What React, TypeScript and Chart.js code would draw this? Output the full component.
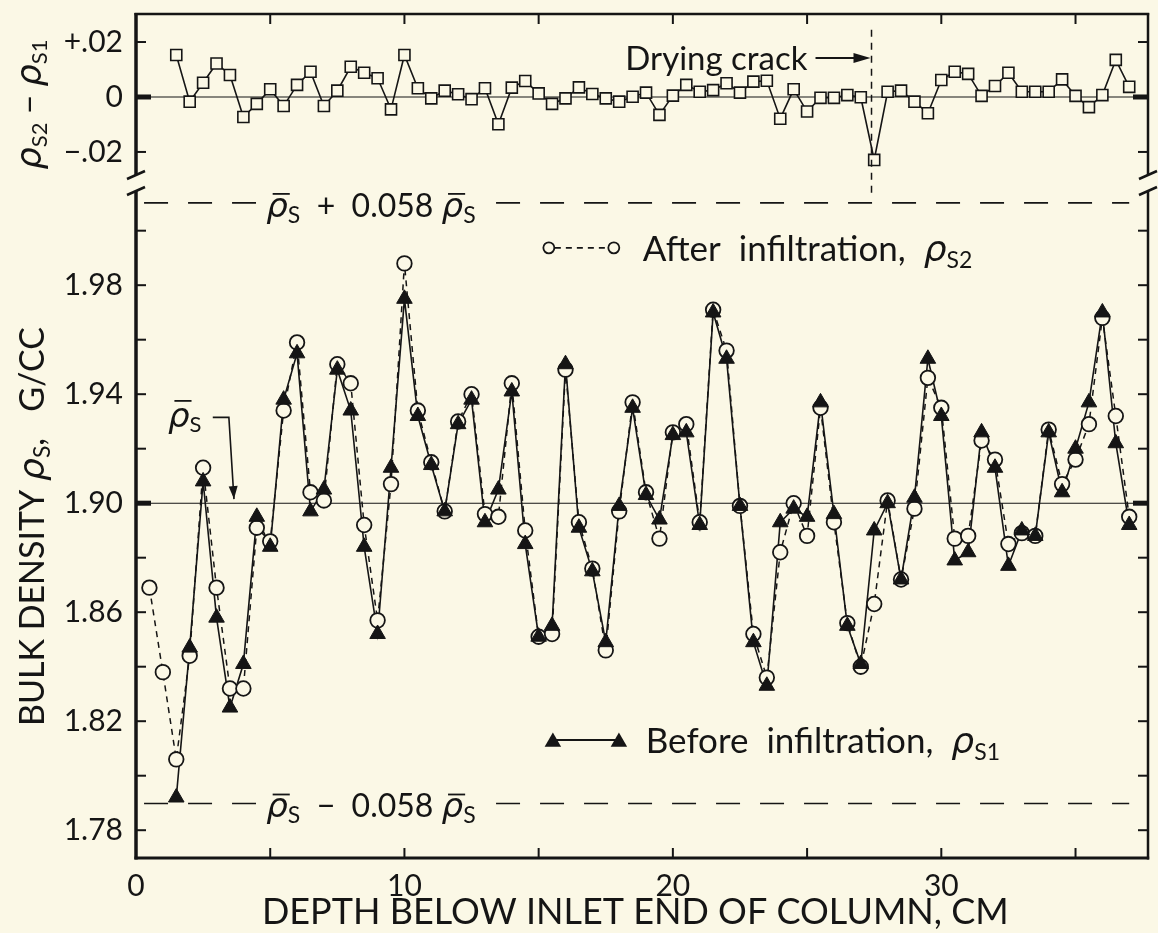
import React, { useEffect, useRef } from 'react';
import { Chart, registerables } from 'chart.js';

Chart.register(...registerables);

const BG = '#fbf8e6';
const INK = '#151515';
const LATIN = 'Lato, "DejaVu Sans", sans-serif';
const GREEK = '"DejaVu Sans", "Noto Sans", sans-serif';

// depth of each slice below the inlet end (cm)
const depthCm = [
  0.5, 1, 1.5, 2, 2.5, 3, 3.5, 4, 4.5, 5,
  5.5, 6, 6.5, 7, 7.5, 8, 8.5, 9, 9.5, 10,
  10.5, 11, 11.5, 12, 12.5, 13, 13.5, 14, 14.5, 15,
  15.5, 16, 16.5, 17, 17.5, 18, 18.5, 19, 19.5, 20,
  20.5, 21, 21.5, 22, 22.5, 23, 23.5, 24, 24.5, 25,
  25.5, 26, 26.5, 27, 27.5, 28, 28.5, 29, 29.5, 30,
  30.5, 31, 31.5, 32, 32.5, 33, 33.5, 34, 34.5, 35,
  35.5, 36, 36.5, 37,
];

// bulk density after infiltration, rho_s2 (g/cc)
const afterInfiltration = [
  1.869, 1.838, 1.806, 1.844, 1.913, 1.869, 1.832, 1.832, 1.891, 1.886,
  1.934, 1.959, 1.904, 1.901, 1.951, 1.944, 1.892, 1.857, 1.907, 1.988,
  1.934, 1.915, 1.897, 1.930, 1.940, 1.896, 1.895, 1.944, 1.890, 1.851,
  1.852, 1.949, 1.893, 1.876, 1.846, 1.897, 1.937, 1.904, 1.887, 1.926,
  1.929, 1.893, 1.971, 1.956, 1.899, 1.852, 1.836, 1.882, 1.900, 1.888,
  1.935, 1.893, 1.856, 1.840, 1.863, 1.901, 1.872, 1.898, 1.946, 1.935,
  1.887, 1.888, 1.923, 1.916, 1.885, 1.889, 1.888, 1.927, 1.907, 1.916,
  1.929, 1.968, 1.932, 1.895,
];

// bulk density before infiltration, rho_s1 (g/cc)
const beforeInfiltration = [
  null, null, 1.792, 1.847, 1.908, 1.858, 1.825, 1.841, 1.895, 1.884,
  1.938, 1.955, 1.897, 1.905, 1.949, 1.934, 1.884, 1.852, 1.913, 1.975,
  1.932, 1.914, 1.897, 1.929, 1.938, 1.893, 1.905, 1.941, 1.885, 1.851,
  1.855, 1.951, 1.891, 1.875, 1.849, 1.899, 1.935, 1.903, 1.894, 1.925,
  1.926, 1.892, 1.970, 1.953, 1.899, 1.849, 1.833, 1.893, 1.898, 1.895,
  1.937, 1.896, 1.855, 1.841, 1.890, 1.900, 1.872, 1.902, 1.953, 1.932,
  1.879, 1.882, 1.926, 1.913, 1.877, 1.890, 1.888, 1.926, 1.904, 1.920,
  1.937, 1.970, 1.922, 1.892,
];

// rho_s2 - rho_s1 (upper panel), from 1.5 cm on
const differenceDepthCm = depthCm.slice(2);
const densityDifference = [
  0.0153, -0.0017, 0.0052, 0.0122, 0.0080, -0.0073, -0.0025, 0.0028,
  -0.0033, 0.0044, 0.0092, -0.0033, 0.0023, 0.0110, 0.0088, 0.0068, -0.0045, 0.0153,
  0.0032, -0.0005, 0.0023, 0.0010, -0.0008, 0.0032, -0.0099, 0.0034, 0.0058, 0.0013,
  -0.0025, -0.0005, 0.0035, 0.0011, -0.0005, -0.0017, 0.0001, 0.0016, -0.0065, 0.0005,
  0.0044, 0.0019, 0.0025, 0.0050, 0.0016, 0.0056, 0.0059, -0.0079, 0.0028, -0.0053,
  -0.0003, -0.0003, 0.0007, -0.0001, -0.0229, 0.0019, 0.0023, -0.0017, -0.0059, 0.0062,
  0.0092, 0.0084, 0.0004, 0.0040, 0.0088, 0.0019, 0.0019, 0.0019, 0.0064, 0.0004,
  -0.0037, 0.0007, 0.0135, 0.0037,
];

// ticks
const depthTicks = [0, 5, 10, 15, 20, 25, 30, 35];
const depthLabelValues = [0, 10, 20, 30];
const depthLabels = ['0', '10', '20', '30'];
const densityTicks = [1.78, 1.8, 1.82, 1.84, 1.86, 1.88, 1.9, 1.92, 1.94, 1.96, 1.98, 2.0];
const densityLabelValues = [1.78, 1.82, 1.86, 1.9, 1.94, 1.98];
const densityLabels = ['1.78', '1.82', '1.86', '1.90', '1.94', '1.98'];
const differenceTicks = [-0.02, 0, 0.02];
const differenceLabels = ['\u2212.02', '0', '+.02'];

// reference levels
const meanDensity = 1.9;
const bandFraction = 0.058;
const bandStartCm = 0.3;
const bandEndCm = 37.0;
const crackDepth = 27.4;

// axis ranges
const depthMax = 37.7;
const densityMin = 1.7698;
const densityMax = 2.0175;
const differenceMin = -0.0313;
const differenceMax = 0.0302;

// annotation anchors (data units)
const crackTopDiff = 0.0245;
const crackBottomDensity = 2.013;
const crackLabelDiff = 0.0142;
const afterLegend = { level: 1.9937, mark1: 15.38, mark2: 17.8, text: 18.88 };
const beforeLegend = { level: 1.8131, mark1: 15.53, mark2: 17.99, text: 18.99 };
const bandLabelCm = 4.85;
const meanLabel = { cm: 1.19, level: 1.928 };
const meanArrow = { startCm: 2.86, cornerCm: 3.46, tipCm: 3.65, level: 1.9315, tipLevel: 1.9015 };
const xTitleCm = 18.6;

type Part = { t: string; f: string; dy?: number; bar?: number };

const latin = (s: number) => `${s}px ${LATIN}`;
const greek = (s: number) => `italic ${s}px ${GREEK}`;

function measureParts(ctx: CanvasRenderingContext2D, parts: Part[]) {
  let w = 0;
  for (const p of parts) {
    ctx.font = p.f;
    w += ctx.measureText(p.t).width;
  }
  return w;
}

function drawParts(
  ctx: CanvasRenderingContext2D,
  x: number,
  y: number,
  parts: Part[],
  align: 'left' | 'center' | 'right' = 'left'
) {
  const w = measureParts(ctx, parts);
  let cx = align === 'left' ? x : align === 'center' ? x - w / 2 : x - w;
  ctx.textAlign = 'left';
  ctx.textBaseline = 'alphabetic';
  for (const p of parts) {
    ctx.font = p.f;
    const pw = ctx.measureText(p.t).width;
    ctx.fillText(p.t, cx, y + (p.dy || 0));
    if (p.bar) {
      ctx.beginPath();
      ctx.lineWidth = 1.8;
      ctx.moveTo(cx + pw * 0.3, y - p.bar);
      ctx.lineTo(cx + pw + 2, y - p.bar);
      ctx.stroke();
    }
    cx += pw;
  }
  return w;
}

function seg(ctx: CanvasRenderingContext2D, x1: number, y1: number, x2: number, y2: number, w: number) {
  ctx.beginPath();
  ctx.lineWidth = w;
  ctx.moveTo(x1, y1);
  ctx.lineTo(x2, y2);
  ctx.stroke();
}

function arrowHead(ctx: CanvasRenderingContext2D, fx: number, fy: number, tx: number, ty: number, len: number, half: number) {
  const ang = Math.atan2(ty - fy, tx - fx);
  const c = Math.cos(ang), s = Math.sin(ang);
  ctx.beginPath();
  ctx.moveTo(tx, ty);
  ctx.lineTo(tx - len * c - half * s, ty - len * s + half * c);
  ctx.lineTo(tx - len * c + half * s, ty - len * s - half * c);
  ctx.closePath();
  ctx.fill();
}

function circleMark(ctx: CanvasRenderingContext2D, x: number, y: number, r: number) {
  ctx.beginPath();
  ctx.arc(x, y, r, 0, Math.PI * 2);
  ctx.fillStyle = BG;
  ctx.fill();
  ctx.lineWidth = 1.8;
  ctx.strokeStyle = INK;
  ctx.stroke();
  ctx.fillStyle = INK;
}

function triangleMark(ctx: CanvasRenderingContext2D, x: number, y: number, r: number) {
  ctx.beginPath();
  ctx.moveTo(x, y - r);
  ctx.lineTo(x + r * 0.866, y + r * 0.5);
  ctx.lineTo(x - r * 0.866, y + r * 0.5);
  ctx.closePath();
  ctx.fillStyle = INK;
  ctx.fill();
}

const decorPlugin = {
  id: 'decor',
  beforeDraw(chart: any) {
    const { ctx, width, height } = chart;
    ctx.save();
    ctx.fillStyle = BG;
    ctx.fillRect(0, 0, width, height);
    ctx.restore();
  },
  afterDatasetsDraw(chart: any) {
    const ctx: CanvasRenderingContext2D = chart.ctx;
    const sx = chart.scales.x, sy = chart.scales.y, sd = chart.scales.yd;
    const X = (v: number) => sx.getPixelForValue(v);
    const Y = (v: number) => sy.getPixelForValue(v);
    const D = (v: number) => sd.getPixelForValue(v);
    ctx.save();
    ctx.strokeStyle = INK;
    ctx.fillStyle = INK;

    // band labels (interrupt dashed lines)
    const bandLabel = (level: number, sign: string) => {
      const py = Y(level);
      const parts: Part[] = [
        { t: '\u03c1', f: greek(34), bar: 23 },
        { t: 'S', f: latin(23), dy: 6 },
        { t: `  ${sign}  0.058 `, f: latin(32) },
        { t: '\u03c1', f: greek(34), bar: 23 },
        { t: 'S', f: latin(23), dy: 6 },
      ];
      const x0 = X(bandLabelCm);
      const w = measureParts(ctx, parts);
      ctx.fillStyle = BG;
      ctx.fillRect(x0 - 10, py - 4, w + 20, 8);
      ctx.fillStyle = INK;
      drawParts(ctx, x0, py + 14, parts);
    };
    bandLabel(meanDensity * (1 + bandFraction), '+');
    bandLabel(meanDensity * (1 - bandFraction), '\u2212');

    // mean label with arrow
    drawParts(ctx, X(meanLabel.cm), Y(meanLabel.level), [
      { t: '\u03c1', f: greek(34), bar: 26 },
      { t: 'S', f: latin(22), dy: 5 },
    ]);
    ctx.beginPath();
    ctx.lineWidth = 1.6;
    ctx.moveTo(X(meanArrow.startCm), Y(meanArrow.level));
    ctx.lineTo(X(meanArrow.cornerCm), Y(meanArrow.level));
    ctx.lineTo(X(meanArrow.tipCm), Y(meanArrow.tipLevel));
    ctx.stroke();
    arrowHead(ctx, X(meanArrow.cornerCm), Y(meanArrow.level), X(meanArrow.tipCm), Y(meanArrow.tipLevel), 13, 4.5);

    // drying crack
    const cx = X(crackDepth);
    ctx.setLineDash([7, 6]);
    seg(ctx, cx, D(crackTopDiff), cx, Y(crackBottomDensity), 1.5);
    ctx.setLineDash([]);
    const cy = D(crackLabelDiff);
    seg(ctx, cx - 56, cy, cx - 14, cy, 2);
    arrowHead(ctx, cx - 30, cy, cx - 1, cy, 17, 5);
    drawParts(ctx, cx - 64, cy + 12, [{ t: 'Drying crack', f: latin(33) }], 'right');

    // legend: after
    const la = Y(afterLegend.level);
    ctx.setLineDash([6, 5]);
    seg(ctx, X(afterLegend.mark1) + 6, la, X(afterLegend.mark2) - 6, la, 1.6);
    ctx.setLineDash([]);
    circleMark(ctx, X(afterLegend.mark1), la, 5.5);
    circleMark(ctx, X(afterLegend.mark2), la, 5.5);
    drawParts(ctx, X(afterLegend.text), la + 13, [
      { t: 'After  infiltration,  ', f: latin(35) },
      { t: '\u03c1', f: greek(36) },
      { t: 'S2', f: latin(23), dy: 7 },
    ]);

    // legend: before
    const lb = Y(beforeLegend.level);
    seg(ctx, X(beforeLegend.mark1), lb, X(beforeLegend.mark2), lb, 1.8);
    triangleMark(ctx, X(beforeLegend.mark1), lb + 2, 9.5);
    triangleMark(ctx, X(beforeLegend.mark2), lb + 2, 9.5);
    drawParts(ctx, X(beforeLegend.text), lb + 13, [
      { t: 'Before  infiltration,  ', f: latin(35) },
      { t: '\u03c1', f: greek(36) },
      { t: 'S1', f: latin(23), dy: 7 },
    ]);
    ctx.restore();
  },
  afterDraw(chart: any) {
    const ctx: CanvasRenderingContext2D = chart.ctx;
    const a = chart.chartArea;
    const sx = chart.scales.x, sy = chart.scales.y, sd = chart.scales.yd;
    ctx.save();
    ctx.strokeStyle = INK;
    ctx.fillStyle = INK;
    const brk = sd.bottom;
    // frame
    seg(ctx, a.left, a.top - 1, a.left, brk - 8, 3.5);
    seg(ctx, a.left, brk + 8, a.left, a.bottom + 1.5, 3.5);
    seg(ctx, a.right, a.top - 1, a.right, brk - 8, 2.5);
    seg(ctx, a.right, brk + 8, a.right, a.bottom + 1.5, 2.5);
    seg(ctx, a.left - 1.5, a.bottom, a.right + 1.2, a.bottom, 3);
    seg(ctx, a.left - 1.5, a.top, a.right + 1.2, a.top, 2.5);
    for (const bx of [a.left, a.right]) {
      seg(ctx, bx - 9, brk - 4, bx + 9, brk - 12, 2.5);
      seg(ctx, bx - 9, brk + 12, bx + 9, brk + 4, 2.5);
    }
    // inward ticks
    const T = 10;
    for (const v of depthTicks) {
      if (v <= 0) continue;
      const px = sx.getPixelForValue(v);
      seg(ctx, px, a.bottom, px, a.bottom - T, 2);
      seg(ctx, px, a.top, px, a.top + T, 2);
    }
    for (const v of densityTicks) {
      const py = sy.getPixelForValue(v);
      seg(ctx, a.left, py, a.left + T, py, 2);
      seg(ctx, a.right, py, a.right - T, py, 2);
    }
    for (const v of differenceTicks) {
      const py = sd.getPixelForValue(v);
      seg(ctx, a.left, py, a.left + T, py, 2);
      seg(ctx, a.right, py, a.right - T, py, 2);
    }
    // heavy marks at the reference levels
    for (const py of [sy.getPixelForValue(meanDensity), sd.getPixelForValue(0)]) {
      ctx.fillRect(a.left, py - 2.5, 15, 5);
      ctx.fillRect(a.right - 15, py - 2.5, 15, 5);
    }

    // y titles (rotated)
    const yTitle = (px: number, py: number, parts: Part[]) => {
      ctx.save();
      ctx.translate(px, py);
      ctx.rotate(-Math.PI / 2);
      drawParts(ctx, 0, 0, parts, 'center');
      ctx.restore();
    };
    yTitle(44, (sy.top + sy.bottom) / 2 + 6, [
      { t: 'BULK DENSITY ', f: latin(34) },
      { t: '\u03c1', f: greek(36) },
      { t: 'S', f: latin(23), dy: 6 },
      { t: ',   G/CC', f: latin(34) },
    ]);
    yTitle(41, (sd.top + sd.bottom) / 2 + 6, [
      { t: '\u03c1', f: greek(35) },
      { t: 'S2', f: latin(22), dy: 6 },
      { t: ' \u2212 ', f: latin(33) },
      { t: '\u03c1', f: greek(35) },
      { t: 'S1', f: latin(22), dy: 6 },
    ]);
    // x title
    drawParts(ctx, sx.getPixelForValue(xTitleCm), 924, [
      { t: 'DEPTH BELOW INLET END OF COLUMN, CM', f: latin(36) },
    ], 'center');
    ctx.restore();
  },
};

const pts = (xs: number[], ys: (number | null)[]) => xs.map((x, i) => ({ x, y: ys[i] }));

export default function App() {
  const ref = useRef<HTMLCanvasElement>(null);

  useEffect(() => {
    const canvas = ref.current;
    if (!canvas) return;
    const lineBase = {
      pointRadius: 0,
      pointHoverRadius: 0,
      fill: false,
      tension: 0,
      borderColor: INK,
    };
    const upper = meanDensity * (1 + bandFraction);
    const lower = meanDensity * (1 - bandFraction);
    const tickFont = { family: LATIN, size: 30 };
    const noPadV = (s: any) => {
      s.width = 136;
      s.paddingTop = 0;
      s.paddingBottom = 0;
    };

    const chart = new Chart(canvas, {
      type: 'line',
      data: {
        datasets: [
          {
            label: 'before markers',
            data: pts(depthCm, beforeInfiltration),
            yAxisID: 'y',
            showLine: false,
            pointStyle: 'triangle',
            pointRadius: 9,
            pointBackgroundColor: INK,
            pointBorderColor: INK,
            pointBorderWidth: 1,
            order: 1,
          },
          {
            label: 'after markers',
            data: pts(depthCm, afterInfiltration),
            yAxisID: 'y',
            showLine: false,
            pointStyle: 'circle',
            pointRadius: 7.3,
            pointBackgroundColor: BG,
            pointBorderColor: INK,
            pointBorderWidth: 1.8,
            order: 2,
          },
          {
            ...lineBase,
            label: 'difference',
            data: pts(differenceDepthCm, densityDifference),
            yAxisID: 'yd',
            borderWidth: 1.6,
            pointStyle: 'rect',
            pointRadius: 7.8,
            pointBackgroundColor: BG,
            pointBorderColor: INK,
            pointBorderWidth: 1.6,
            order: 3,
          },
          {
            ...lineBase,
            label: 'before line',
            data: pts(depthCm, beforeInfiltration),
            yAxisID: 'y',
            borderWidth: 1.6,
            order: 4,
          },
          {
            ...lineBase,
            label: 'after line',
            data: pts(depthCm, afterInfiltration),
            yAxisID: 'y',
            borderWidth: 1.5,
            borderDash: [6, 5],
            order: 5,
          },
          {
            ...lineBase,
            label: 'upper band',
            data: [{ x: bandStartCm, y: upper }, { x: bandEndCm, y: upper }],
            yAxisID: 'y',
            borderWidth: 1.6,
            borderDash: [24, 20],
            order: 6,
          },
          {
            ...lineBase,
            label: 'lower band',
            data: [{ x: bandStartCm, y: lower }, { x: bandEndCm, y: lower }],
            yAxisID: 'y',
            borderWidth: 1.6,
            borderDash: [24, 20],
            order: 7,
          },
          {
            ...lineBase,
            label: 'mean',
            data: [{ x: 0, y: meanDensity }, { x: depthMax, y: meanDensity }],
            yAxisID: 'y',
            borderWidth: 1.1,
            order: 8,
          },
          {
            ...lineBase,
            label: 'zero',
            data: [{ x: 0, y: 0 }, { x: depthMax, y: 0 }],
            yAxisID: 'yd',
            borderWidth: 1.1,
            order: 9,
          },
        ],
      },
      options: {
        responsive: false,
        animation: false,
        events: [],
        layout: { padding: { top: 14, right: 10, bottom: 0, left: 0 } },
        plugins: {
          legend: { display: false },
          tooltip: { enabled: false },
        },
        scales: {
          x: {
            type: 'linear',
            position: 'bottom',
            min: 0,
            max: depthMax,
            grid: { display: false, drawTicks: false },
            border: { display: false },
            afterBuildTicks: (s: any) => {
              s.ticks = depthTicks.map((v) => ({ value: v }));
            },
            afterFit: (s: any) => {
              s.height = 75;
              s.paddingLeft = 0;
              s.paddingRight = 0;
            },
            ticks: {
              autoSkip: false,
              maxRotation: 0,
              padding: 10,
              color: INK,
              font: tickFont,
              callback: (v: any) => {
                const i = depthLabelValues.indexOf(v);
                return i >= 0 ? depthLabels[i] : '';
              },
            },
          },
          y: {
            type: 'linear',
            position: 'left',
            stack: 'panels',
            stackWeight: 675,
            min: densityMin,
            max: densityMax,
            grid: { display: false, drawTicks: false },
            border: { display: false },
            afterBuildTicks: (s: any) => {
              s.ticks = densityTicks.map((v) => ({ value: v }));
            },
            afterFit: noPadV,
            ticks: {
              autoSkip: false,
              padding: 13,
              color: INK,
              font: tickFont,
              callback: (v: any) => {
                const i = densityLabelValues.indexOf(v);
                return i >= 0 ? densityLabels[i] : '';
              },
            },
          },
          yd: {
            type: 'linear',
            position: 'left',
            stack: 'panels',
            stackWeight: 169,
            min: differenceMin,
            max: differenceMax,
            grid: { display: false, drawTicks: false },
            border: { display: false },
            afterBuildTicks: (s: any) => {
              s.ticks = differenceTicks.map((v) => ({ value: v }));
            },
            afterFit: noPadV,
            ticks: {
              autoSkip: false,
              padding: 13,
              color: INK,
              font: tickFont,
              callback: (v: any) => {
                const i = differenceTicks.indexOf(v);
                return i >= 0 ? differenceLabels[i] : '';
              },
            },
          },
        },
      } as any,
      plugins: [decorPlugin],
    });
    return () => chart.destroy();
  }, []);

  return (
    <div style={{ position: 'fixed', left: 0, top: 0, width: 1158, height: 933, background: BG }}>
      <canvas ref={ref} width={1158} height={933} style={{ display: 'block', width: 1158, height: 933 }} />
    </div>
  );
}
